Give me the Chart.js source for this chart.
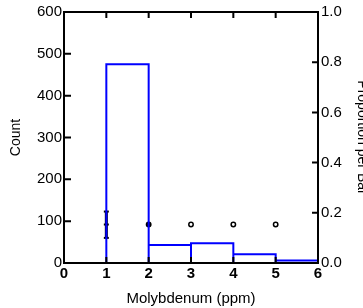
<!DOCTYPE html>
<html>
<head>
<meta charset="utf-8">
<script src="https://cdn.jsdelivr.net/npm/chart.js@4"></script>
<style>
  html, body { margin: 0; padding: 0; background: #fff; }
  #wrap { width: 363px; height: 308px; }
</style>
</head>
<body>
<div id="wrap"><canvas id="chart" width="363" height="308"></canvas></div>
<script>
// histogram bins (ppm) and counts
const binEdges = [0, 1, 2, 3, 4, 5, 6];
const counts = [0, 475, 43, 47, 21, 6];

// box marker at x = 1 (low, middle, high count)
const boxX = 1;
const boxVals = [60, 92, 123];

// outlier dots
const dotX = [2, 3, 4, 5];
const dotY = [92, 92, 92, 92];

const xTicks = [0, 1, 2, 3, 4, 5, 6];
const yTicks = [0, 100, 200, 300, 400, 500, 600];
const y2Ticks = [0, 0.2, 0.4, 0.6, 0.8, 1.0];

// outline of the bars
const outline = [];
for (let i = 0; i < counts.length; i++) {
    if (counts[i] <= 0) continue;
    outline.push({x: binEdges[i], y: 0});
    outline.push({x: binEdges[i], y: counts[i]});
    outline.push({x: binEdges[i + 1], y: counts[i]});
    outline.push({x: binEdges[i + 1], y: 0});
}

const FONT = "'Liberation Sans', Arial, sans-serif";

// frame and inward tick marks
const frameTicks = {
    id: 'frameTicks',
    afterDatasetsDraw(chart) {
        const {ctx, chartArea: a, scales} = chart;
        ctx.save();
        ctx.strokeStyle = '#000';
        ctx.lineWidth = 2;
        ctx.beginPath();
        xTicks.forEach(v => {
            const px = scales.x.getPixelForValue(v);
            ctx.moveTo(px, a.bottom); ctx.lineTo(px, a.bottom - 6);
            ctx.moveTo(px, a.top); ctx.lineTo(px, a.top + 6);
        });
        yTicks.forEach(v => {
            const py = scales.y.getPixelForValue(v);
            ctx.moveTo(a.left, py); ctx.lineTo(a.left + 7, py);
        });
        y2Ticks.forEach(v => {
            const py = scales.y2.getPixelForValue(v);
            ctx.moveTo(a.right, py); ctx.lineTo(a.right - 6, py);
        });
        ctx.stroke();
        ctx.strokeRect(a.left, a.top, a.right - a.left, a.bottom - a.top);
        ctx.restore();
    }
};

const ctx = document.getElementById('chart').getContext('2d');
const myChart = new Chart(ctx, {
    type: 'scatter',
    data: {
        datasets: [{
            type: 'line',
            data: outline,
            borderColor: '#0000ff',
            borderWidth: 2,
            pointRadius: 0,
            tension: 0,
            yAxisID: 'y'
        }, {
            type: 'line',
            data: boxVals.map(v => ({x: boxX, y: v})),
            borderColor: '#000',
            borderWidth: 3,
            pointStyle: 'line',
            pointRadius: 2.5,
            pointBorderWidth: 2,
            pointBorderColor: '#000',
            yAxisID: 'y'
        }, {
            data: dotX.map((x, i) => ({x: x, y: dotY[i]})),
            pointRadius: 2.2,
            pointBorderWidth: 1.5,
            borderColor: '#000',
            backgroundColor: dotX.map((x, i) => i === 0 ? '#000' : '#fff'),
            yAxisID: 'y'
        }]
    },
    options: {
        responsive: false,
        animation: false,
        layout: { padding: { top: 10, left: 0, right: 0, bottom: 0 } },
        plugins: { legend: { display: false }, tooltip: { enabled: false } },
        scales: {
            x: {
                type: 'linear',
                min: 0, max: 6,
                afterBuildTicks: s => { s.ticks = xTicks.map(v => ({value: v})); },
                afterFit: s => { s.height = 45; },
                grid: { display: false, drawTicks: false },
                border: { display: false },
                ticks: { color: '#000', padding: 2, font: { family: FONT, size: 15, weight: 'bold' } },
                title: { display: true, text: 'Molybdenum (ppm)', color: '#000', padding: { top: 3, bottom: 0 }, font: { family: FONT, size: 15 } }
            },
            y: {
                position: 'left',
                min: 0, max: 600,
                afterBuildTicks: s => { s.ticks = yTicks.map(v => ({value: v})); },
                afterFit: s => { s.width = 64; },
                grid: { display: false, drawTicks: false },
                border: { display: false },
                ticks: { color: '#000', padding: 2, font: { family: FONT, size: 15 } },
                title: { display: true, text: 'Count', color: '#000', padding: { top: 8, bottom: 0 }, font: { family: FONT, size: 14 } }
            },
            y2: {
                position: 'right',
                min: 0, max: 1,
                afterBuildTicks: s => { s.ticks = y2Ticks.map(v => ({value: v})); },
                afterFit: s => { s.width = 45; },
                grid: { display: false, drawTicks: false },
                border: { display: false },
                ticks: { color: '#000', padding: 3, font: { family: FONT, size: 15 }, callback: v => v.toFixed(1) },
                title: { display: true, text: 'Proportion per Bar', color: '#000', padding: { top: -7, bottom: 0 }, font: { family: FONT, size: 14 } }
            }
        }
    },
    plugins: [frameTicks]
});
</script>
</body>
</html>
